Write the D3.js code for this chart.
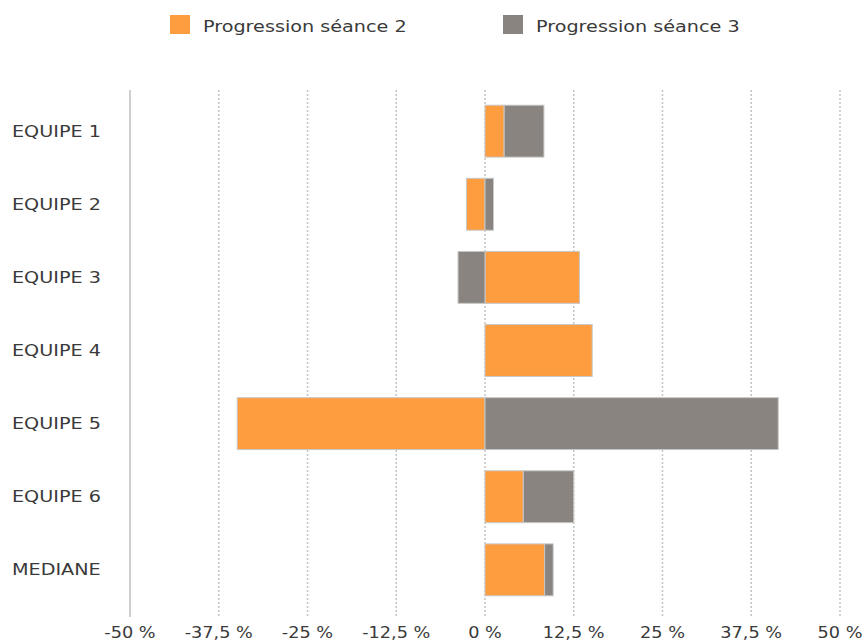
<!DOCTYPE html>
<html>
<head>
<meta charset="utf-8">
<script src="https://cdn.jsdelivr.net/npm/d3@7"></script>
<style>
  html, body { margin: 0; padding: 0; background: #fff; }
  svg { display: block; }
  text { font-family: "DejaVu Sans", "Liberation Sans", sans-serif; fill: #3a3a3a; }
</style>
</head>
<body>
<svg id="chart" width="862" height="641"></svg>
<script>
const categories = ["EQUIPE 1", "EQUIPE 2", "EQUIPE 3", "EQUIPE 4", "EQUIPE 5", "EQUIPE 6", "MEDIANE"];
const seriesNames = ["Progression séance 2", "Progression séance 3"];
const seance2 = [2.7, -2.6, 13.3, 15.1, -34.9, 5.4, 8.4];
const seance3 = [5.6, 1.2, -3.8, 0, 41.3, 7.1, 1.2];
const tickValues = [-50, -37.5, -25, -12.5, 0, 12.5, 25, 37.5, 50];
const tickLabels = ["-50 %", "-37,5 %", "-25 %", "-12,5 %", "0 %", "12,5 %", "25 %", "37,5 %", "50 %"];

const colors = ["#fd9d3f", "#89847f"];
const svg = d3.select("#chart");
const SX = 1.28;
const SXT = 1.18;

const rows = categories.map((c, i) => ({ cat: c, s2: seance2[i], s3: seance3[i] }));
const stack = d3.stack().keys(["s2", "s3"]).offset(d3.stackOffsetDiverging);
const stacked = stack(rows);

const x = d3.scaleLinear().domain([-50, 50]).range([130, 840]);
const y = d3.scaleBand().domain(categories).range([84, 617]).padding(0.29);

const gridTop = 90, gridBottom = 617;

// grid lines
svg.append("g").selectAll("line")
  .data(tickValues.filter(v => v !== -50))
  .join("line")
  .attr("x1", d => x(d)).attr("x2", d => x(d))
  .attr("y1", gridTop).attr("y2", gridBottom)
  .attr("stroke", "#c4c4c4").attr("stroke-width", 1.5)
  .attr("stroke-dasharray", "2,2");

// axis line
svg.append("line")
  .attr("x1", x(-50)).attr("x2", x(-50))
  .attr("y1", gridTop).attr("y2", gridBottom)
  .attr("stroke", "#cfcfcf").attr("stroke-width", 2);

// bars
svg.append("g").selectAll("g")
  .data(stacked)
  .join("g")
  .attr("fill", (d, i) => colors[i])
  .selectAll("rect")
  .data(d => d.filter(p => p[1] !== p[0]))
  .join("rect")
  .attr("x", d => x(Math.min(d[0], d[1])))
  .attr("width", d => Math.abs(x(d[1]) - x(d[0])))
  .attr("y", d => y(d.data.cat))
  .attr("height", y.bandwidth())
  .attr("stroke", "#c8c8c8").attr("stroke-width", 1);

// category labels
svg.append("g").selectAll("text")
  .data(categories)
  .join("text")
  .attr("transform", d => `translate(12,${y(d) + y.bandwidth() / 2 + 5.5}) scale(${SX},1)`)
  .attr("font-size", 15)
  .text(d => d);

// tick labels
svg.append("g").selectAll("text")
  .data(tickValues)
  .join("text")
  .attr("transform", d => `translate(${x(d)},638) scale(${SXT},1)`)
  .attr("text-anchor", "middle")
  .attr("font-size", 15)
  .text((d, i) => tickLabels[i]);

// legend
const legendX = [170, 503];
const lg = svg.append("g").selectAll("g")
  .data(seriesNames)
  .join("g")
  .attr("transform", (d, i) => `translate(${legendX[i]},15)`);
lg.append("rect")
  .attr("width", 20).attr("height", 19)
  .attr("fill", (d, i) => colors[i]);
lg.append("text")
  .attr("transform", `translate(33,17) scale(${SX},1)`)
  .attr("font-size", 15)
  .text(d => d);
</script>
</body>
</html>
